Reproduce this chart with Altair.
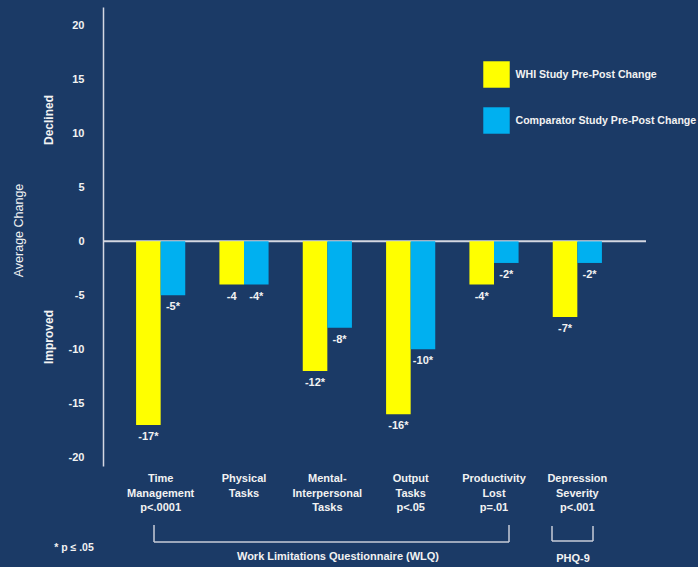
import altair as alt
import pandas as pd

# Measures (WLQ scales + PHQ-9) and their printed axis captions
categories = [
    "Time Management",
    "Physical Tasks",
    "Mental-Interpersonal Tasks",
    "Output Tasks",
    "Productivity Lost",
    "Depression Severity",
]
category_captions = [
    "Time\nManagement\np<.0001",
    "Physical\nTasks",
    "Mental-\nInterpersonal\nTasks",
    "Output\nTasks\np<.05",
    "Productivity\nLost\np=.01",
    "Depression\nSeverity\np<.001",
]

series = ["WHI Study Pre-Post Change", "Comparator Study Pre-Post Change"]
whi_values = [-17, -4, -12, -16, -4, -7]
whi_flags = ["*", "", "*", "*", "*", "*"]
comparator_values = [-5, -4, -8, -10, -2, -2]
comparator_flags = ["*", "*", "*", "*", "*", "*"]

y_ticks = [-20, -15, -10, -5, 0, 5, 10, 15, 20]

BG = "#1b3a66"
INK = "#f2f2f2"
LINE = "#d4d7e2"
FONT = "Liberation Sans"

rows = []
for name, vals, flags in [
    (series[0], whi_values, whi_flags),
    (series[1], comparator_values, comparator_flags),
]:
    for cat, v, f in zip(categories, vals, flags):
        rows.append({"category": cat, "series": name, "value": v, "label": f"{v}{f}"})
df = pd.DataFrame(rows)
captions = pd.DataFrame({"category": categories, "caption": category_captions})

x_enc = alt.X(
    "category:N",
    sort=categories,
    scale=alt.Scale(range=[16, 516], paddingInner=0.41, paddingOuter=0.205),
    axis=None,
)
xoff_enc = alt.XOffset(
    "series:N", sort=series, scale=alt.Scale(paddingInner=0, paddingOuter=0)
)
y_scale = alt.Scale(domain=[-20.8, 21.7], nice=False, zero=False)

zero_line = (
    alt.Chart(df)
    .transform_filter("datum.category == 'Time Management' && datum.series == '" + series[0] + "'")
    .mark_rule(color=LINE, strokeWidth=2)
    .encode(y=alt.datum(0, scale=y_scale))
)

bars = (
    alt.Chart(df)
    .mark_bar()
    .encode(
        x=x_enc,
        xOffset=xoff_enc,
        y=alt.Y(
            "value:Q",
            scale=y_scale,
            axis=alt.Axis(
                values=y_ticks,
                labelExpr="'' + datum.value",
                title="Average Change",
                titleX=-85,
                titleY=223,
                titleAlign="center",
                titleBaseline="middle",
                titleFont=FONT,
                titleFontSize=12.5,
                titleFontWeight="normal",
                titleColor=INK,
                labelFont=FONT,
                labelFontSize=11,
                labelFontWeight="bold",
                labelColor=INK,
                labelPadding=19,
                ticks=False,
                grid=False,
                domainColor=LINE,
                domainWidth=1.5,
            ),
        ),
        color=alt.Color(
            "series:N",
            sort=series,
            scale=alt.Scale(domain=series, range=["#ffff00", "#00b0f0"]),
            legend=alt.Legend(
                orient="none",
                legendX=380,
                legendY=54,
                title=None,
                padding=0,
                symbolType="square",
                symbolSize=700,
                symbolStrokeWidth=0,
                symbolOpacity=1,
                labelFont=FONT,
                labelFontSize=10.6,
                labelFontWeight="bold",
                labelColor=INK,
                labelOffset=5.5,
                labelLimit=400,
                rowPadding=19,
            ),
        ),
    )
)

value_labels = (
    alt.Chart(df)
    .mark_text(
        baseline="top", dy=6, font=FONT, fontSize=11, fontWeight="bold", color=INK
    )
    .encode(x=x_enc, xOffset=xoff_enc, y=alt.Y("value:Q", scale=y_scale), text="label:N")
)

caption_text = (
    alt.Chart(captions)
    .mark_text(
        baseline="top",
        lineBreak="\n",
        lineHeight=14.5,
        font=FONT,
        fontSize=11,
        fontWeight="bold",
        color=INK,
    )
    .encode(x=x_enc, y=alt.value(466), text="caption:N")
)

one = alt.Data(values=[{"k": 0}])


def note(text, x, y, size=11, weight="bold", angle=0):
    mark = dict(
        text=text, font=FONT, fontSize=size, fontWeight=weight, color=INK,
        align="center", baseline="middle",
    )
    if angle:
        mark["angle"] = angle
    return alt.Chart(one).mark_text(**mark).encode(x=alt.value(x), y=alt.value(y))


def seg(x, y, x2=None, y2=None):
    enc = dict(x=alt.value(x), y=alt.value(y))
    if x2 is not None:
        enc["x2"] = alt.value(x2)
    if y2 is not None:
        enc["y2"] = alt.value(y2)
    return alt.Chart(one).mark_rule(color="#c9ccd8", strokeWidth=1.5).encode(**enc)


annotations = [
    note("Declined", -54, 113, size=12, angle=270),
    note("Improved", -54, 330, size=12, angle=270),
    note("Work Limitations Questionnaire (WLQ)", 235, 550),
    note("PHQ-9", 470, 552),
    note("* p ≤ .05", -29, 541, size=10.5),
    # WLQ bracket
    seg(51, 535, x2=406),
    seg(51, 518, y2=535),
    seg(406, 518, y2=535),
    # PHQ-9 bracket
    seg(449, 534, x2=490),
    seg(449, 519, y2=534),
    seg(490, 519, y2=534),
]

chart = (
    alt.layer(zero_line, bars, value_labels, caption_text, *annotations)
    .properties(
        width=543,
        height=459,
        background=BG,
        padding={"left": 103, "top": 7, "right": 52, "bottom": 101},
        autosize=alt.AutoSizeParams(type="none"),
    )
    .configure_view(stroke=None)
)

chart.save("out.html", embed_options={"renderer": "svg", "actions": False})
